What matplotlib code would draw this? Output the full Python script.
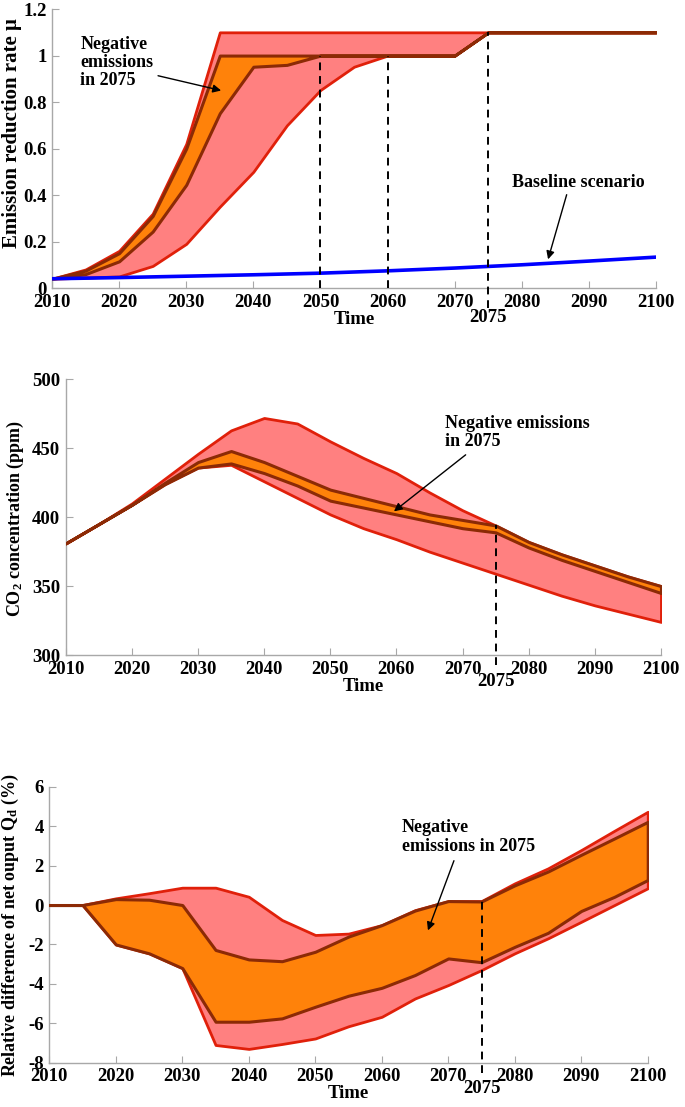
"""
Three stacked panels: emission reduction rate, CO2 concentration and net output
difference, each with a red range band and an orange band for negative emissions in 2075.
"""

import matplotlib
matplotlib.use("Agg")
import matplotlib.pyplot as plt
from matplotlib.ticker import FuncFormatter

plt.rcParams["font.family"] = "Liberation Serif"
plt.rcParams["font.weight"] = "bold"
plt.rcParams["axes.unicode_minus"] = False
plt.rcParams["mathtext.fontset"] = "custom"
plt.rcParams["mathtext.rm"] = "Liberation Serif:bold"
plt.rcParams["mathtext.it"] = "Liberation Serif:bold"
plt.rcParams["mathtext.bf"] = "Liberation Serif:bold"

# ---------- data ----------
years = list(range(2010, 2101, 5))

# 1) emission reduction rate mu
mu_red_hi = [0.04, 0.08, 0.16, 0.32, 0.62, 1.1, 1.1, 1.1, 1.1, 1.1, 1.1, 1.1, 1.1, 1.1, 1.1, 1.1, 1.1, 1.1, 1.1]
mu_red_lo = [0.04, 0.045, 0.05, 0.095, 0.19, 0.35, 0.5, 0.7, 0.852, 0.952, 1.0, 1.0, 1.0, 1.1, 1.1, 1.1, 1.1, 1.1, 1.1]
mu_neg_hi = [0.04, 0.075, 0.15, 0.31, 0.6, 1.0, 1.0, 1.0, 1.0, 1.0, 1.0, 1.0, 1.0, 1.1, 1.1, 1.1, 1.1, 1.1, 1.1]
mu_neg_lo = [0.04, 0.06, 0.115, 0.243, 0.444, 0.752, 0.952, 0.96, 1.0, 1.0, 1.0, 1.0, 1.0, 1.1, 1.1, 1.1, 1.1, 1.1, 1.1]
base_years = list(range(2010, 2101, 10))
mu_baseline = [0.040, 0.045, 0.051, 0.057, 0.064, 0.074, 0.086, 0.100, 0.116, 0.133]

# 2) CO2 concentration (ppm)
co2_red_hi = [381, 395, 410, 428, 446, 463, 472, 468, 455, 443, 432, 418, 405, 394, 382, 373, 365, 357, 350]
co2_red_lo = [381, 395, 409, 424, 436, 438, 426, 414, 402, 392, 384, 375, 367, 359, 351, 343, 336, 330, 324]
co2_neg_hi = [381, 395, 409, 425, 440, 448, 440, 430, 420, 414, 408, 402, 398, 394, 382, 373, 365, 357, 350]
co2_neg_lo = [381, 395, 409, 424, 436, 439, 432, 423, 412, 407, 402, 397, 392, 389, 378, 369, 361, 353, 345]

# 3) relative difference of net output (%)
qd_red_hi = [0, 0, 0.34, 0.6, 0.88, 0.88, 0.42, -0.76, -1.52, -1.45, -1.02, -0.26, 0.2, 0.2, 1.1, 1.86, 2.79, 3.77, 4.73]
qd_red_lo = [0, 0, -2.0, -2.45, -3.2, -7.1, -7.3, -7.05, -6.77, -6.15, -5.67, -4.74, -4.06, -3.3, -2.45, -1.69, -0.85, 0.0, 0.85]
qd_neg_hi = [0, 0, 0.3, 0.27, 0.0, -2.28, -2.76, -2.85, -2.37, -1.6, -1.02, -0.28, 0.2, 0.18, 1.0, 1.7, 2.55, 3.38, 4.22]
qd_neg_lo = [0, 0, -2.0, -2.45, -3.2, -5.92, -5.92, -5.75, -5.16, -4.6, -4.2, -3.55, -2.71, -2.9, -2.12, -1.41, -0.3, 0.42, 1.27]

# ---------- style ----------
RED_FILL = "#FF8080"
RED_EDGE = "#E0200A"
ORANGE = "#FF820A"
BROWN = "#8C2A05"
AXIS_GRAY = "#A8A8A8"
FS = 13.5


def bands(ax, red_lo, red_hi, neg_lo, neg_hi):
    ax.fill_between(years, red_lo, red_hi, facecolor=RED_FILL, edgecolor=RED_EDGE, linewidth=2.0, zorder=2)
    ax.fill_between(years, neg_lo, neg_hi, facecolor=ORANGE, edgecolor=BROWN, linewidth=2.2, zorder=3)


def style(ax, ylim, yticks, ylabel, label_xy, label_fs=13):
    ax.set_xlim(2010, 2100)
    ax.set_ylim(*ylim)
    ax.set_xticks(range(2010, 2101, 10))
    ax.set_yticks(yticks)
    ax.yaxis.set_major_formatter(FuncFormatter(lambda v, p: f"{v:g}"))
    for side in ("top", "right"):
        ax.spines[side].set_visible(False)
    for side in ("left", "bottom"):
        ax.spines[side].set_color(AXIS_GRAY)
        ax.spines[side].set_linewidth(1.0)
    ax.tick_params(direction="in", length=5, color=AXIS_GRAY, labelsize=FS, pad=4)
    ax.set_xlabel("Time", fontsize=FS, fontweight="bold", labelpad=0)
    ax.set_ylabel(ylabel, fontsize=label_fs, fontweight="bold")
    ax.yaxis.set_label_coords(*label_xy)
    for lbl in ax.get_xticklabels() + ax.get_yticklabels():
        lbl.set_fontweight("bold")


def dashed(ax, x, y0, y1):
    ax.plot([x, x], [y0, y1], color="black", linestyle=(0, (4, 3)), linewidth=1.4,
            zorder=5, clip_on=False)


def mark_2075(ax, ypos):
    ax.text(2075, ypos, "2075", transform=ax.get_xaxis_transform(), ha="center", va="center",
            fontsize=FS, fontweight="bold")


def note(ax, text, xy_text, tail, head, ha="left", va="top"):
    ax.text(*xy_text, text, ha=ha, va=va, fontsize=13, fontweight="bold", zorder=6,
            linespacing=1.1)
    ax.annotate("", xy=head, xytext=tail, zorder=6,
                arrowprops=dict(arrowstyle="-|>", color="black", lw=1.0, mutation_scale=12))


fig = plt.figure(figsize=(6.85, 11.07), dpi=100)

# ---------- 1) emission reduction rate ----------
ax1 = fig.add_axes([0.0759, 0.7398, 0.8818, 0.2520])
bands(ax1, mu_red_lo, mu_red_hi, mu_neg_lo, mu_neg_hi)
ax1.plot(base_years, mu_baseline, color="#0000FF", linewidth=2.6, zorder=4)
style(ax1, (0, 1.2), [0, 0.2, 0.4, 0.6, 0.8, 1.0, 1.2], "Emission reduction rate μ",
      (-0.050, 0.556), label_fs=15)
dashed(ax1, 2050, 0, 1.0)
dashed(ax1, 2060, 0, 1.0)
dashed(ax1, 2075, -0.086, 1.1)
mark_2075(ax1, -0.105)
note(ax1, "Negative\nemissions\nin 2075", (2014.2, 1.085), (2025.4, 0.916), (2035.6, 0.847))
note(ax1, "Baseline scenario", (2078.6, 0.456), (2086.8, 0.413), (2083.8, 0.112), va="center")

# ---------- 2) CO2 concentration ----------
ax2 = fig.add_axes([0.0959, 0.4083, 0.8690, 0.2490])
bands(ax2, co2_red_lo, co2_red_hi, co2_neg_lo, co2_neg_hi)
style(ax2, (300, 500), [300, 350, 400, 450, 500], r"CO$_2$ concentration (ppm)", (-0.066, 0.497))
dashed(ax2, 2075, 292.8, co2_neg_hi[years.index(2075)])
mark_2075(ax2, -0.097)
note(ax2, "Negative emissions\nin 2075", (2067.3, 474.5), (2070.8, 446.5), (2059.3, 403))

# ---------- 3) net output difference ----------
ax3 = fig.add_axes([0.0720, 0.0400, 0.8736, 0.2493])
bands(ax3, qd_red_lo, qd_red_hi, qd_neg_lo, qd_neg_hi)
style(ax3, (-8, 6), [-8, -6, -4, -2, 0, 2, 4, 6], r"Relative difference of net ouput Q$_d$ (%)",
      (-0.047, 0.50))
dashed(ax3, 2075, -8.52, qd_neg_hi[years.index(2075)])
mark_2075(ax3, -0.092)
note(ax3, "Negative\nemissions in 2075", (2063.0, 4.35), (2071.0, 2.38), (2066.8, -1.42))

fig.savefig("out.png", dpi=100)
